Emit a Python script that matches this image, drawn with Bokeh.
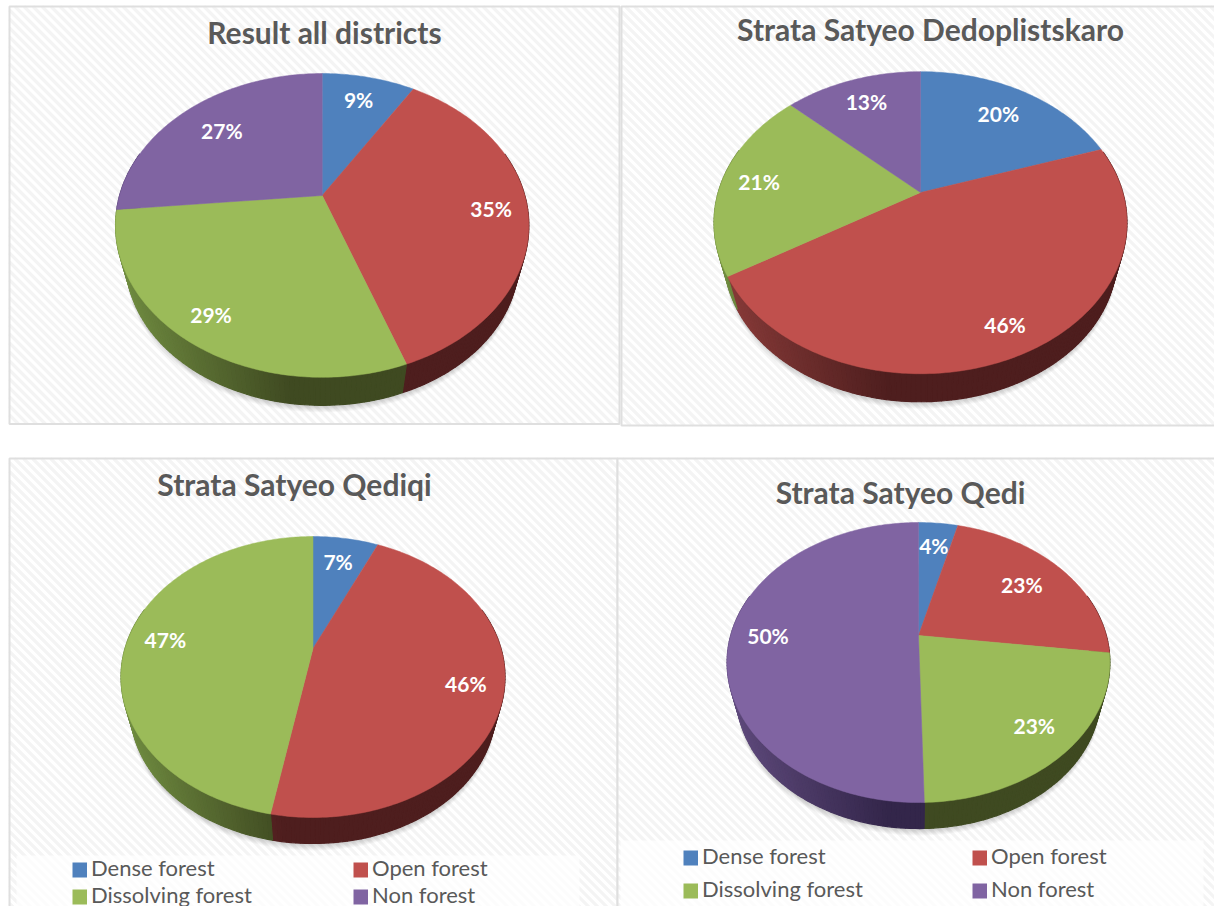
import numpy as np
from bokeh.plotting import figure
from bokeh.models import Range1d
from bokeh.core.properties import value
from bokeh.embed import file_html
from bokeh.resources import INLINE

# ---- data
categories = ["Dense forest", "Open forest", "Dissolving forest", "Non forest"]
titles = ["Result all districts", "Strata Satyeo Dedoplistskaro", "Strata Satyeo Qediqi", "Strata Satyeo Qedi"]
all_districts = [8.8, 35.7, 29, 26.5]
dedoplistskaro = [19.9, 46.4, 20.7, 13]
qediqi = [6.7, 46.2, 47.1, 0]
qedi = [4, 23, 22.6, 50.4]
labels_all = ["9%", "35%", "29%", "27%"]
labels_ded = ["20%", "46%", "21%", "13%"]
labels_qediqi = ["7%", "46%", "47%", ""]
labels_qedi = ["4%", "23%", "23%", "50%"]

# ---- styles and layout
top_colors = ["#4f81bd", "#c0504d", "#9bbb59", "#8064a2"]
wall_dark = ["#2c4a6e", "#4e1e1e", "#3f4a21", "#33264a"]
wall_light = ["#4a74a8", "#8a3c3a", "#708c41", "#5f4a7c"]
W, H = 1214, 906
SCALE = .95

charts = [
    dict(vals=all_districts, labs=labels_all, cx=321.7, cy=195, R=202.6, H=146, k=.197, depth=28,
         off=[(-2, 2), (5, 1), (-11, 5), (8, 6)], title_at=(324, 31)),
    dict(vals=dedoplistskaro, labs=labels_ded, cx=920, cy=192, R=202.3, H=145, k=.2, depth=28,
         off=[(-6, 4), (5, 9), (-3, 1), (2, 2)], title_at=(930, 28)),
    dict(vals=qediqi, labs=labels_qediqi, cx=312.5, cy=648, R=188, H=134.7, k=.203, depth=26,
         off=[(-2, 4), (2, 1), (0, 1), (0, 0)], title_at=(294, 483)),
    dict(vals=qedi, labs=labels_qedi, cx=918, cy=635, R=187.8, H=134.8, k=.193, depth=26,
         off=[(-1, 3), (-11, 5), (2, 0), (0, -1)], title_at=(900, 491)),
]
panels = [(9, 619, 6, 423.5), (621, 1220, 6, 425), (9, 617, 458, 912), (617, 1220, 458, 912)]
legend_boxes = [(16, 579, 855, 906), (620, 1203, 840, 906)]
legend_layouts = [
    dict(xs=(72, 353), ys=(869.5, 896.5)),
    dict(xs=(683, 972), ys=(857.5, 890.5)),
]


def project(c, theta, r=1.0):
    u, v = r * np.sin(theta), r * np.cos(theta)
    d = 1 + c["k"] * v
    return c["cx"] + c["R"] * u / d, c["cy"] - c["H"] * v / d


def lower_rim(c, x, y):
    far = c["cy"] - c["H"] / (1 + c["k"])
    near = c["cy"] + c["H"] / (1 - c["k"])
    yc, ry = (far + near) / 2, (near - far) / 2
    return c["cx"] + (x - c["cx"]) * SCALE, yc + (y - yc) * SCALE + c["depth"] + ry * (1 - SCALE)


def mix(a, b, t):
    ca = [int(a[i:i + 2], 16) for i in (1, 3, 5)]
    cb = [int(b[i:i + 2], 16) for i in (1, 3, 5)]
    return "#%02x%02x%02x" % tuple(round(x + (y - x) * t) for x, y in zip(ca, cb))


p = figure(width=W, height=H, x_range=Range1d(0, W), y_range=Range1d(H, 0),
           output_backend="svg", toolbar_location=None, min_border=0,
           outline_line_color=None, background_fill_color="white", border_fill_color="white")
p.axis.visible = False
p.grid.visible = False

for x0, x1, y0, y1 in panels:
    p.quad(left=x0, right=x1, top=y0, bottom=y1, fill_color="white", line_color=None)
    # diagonal stripe texture of the panel
    sx, sy = [], []
    for t in np.arange(x0 - (y1 - y0), x1, 9.0):
        a = max(t, x0)
        b = min(t + (y1 - y0), x1)
        if b > a:
            sx.append([a, b])
            sy.append([y0 + a - t, y0 + b - t])
    p.multi_line(sx, sy, line_color="#f4f4f4", line_width=3.2)
    p.quad(left=x0, right=x1, top=y0, bottom=y1, fill_color=None, line_color="#dfdfdf", line_width=2)
for x0, x1, y0, y1 in legend_boxes:
    p.quad(left=x0, right=x1, top=y0, bottom=y1, fill_color="#ffffff", fill_alpha=.75, line_color=None)

for c in charts:
    theta = np.linspace(0, 2 * np.pi, 361)
    ox, oy = project(c, theta)
    lx_, ly_ = lower_rim(c, ox, oy)
    # soft shadow
    for s in range(1, 8):
        p.patch(lx_, ly_ + s, fill_color="#000000", fill_alpha=.028, line_color=None)
    x_left, x_span = ox.min(), ox.max() - ox.min()
    shares = np.array(c["vals"], dtype=float)
    edges = np.cumsum(np.r_[0, shares]) / shares.sum() * 2 * np.pi
    # side wall
    xs, ys, cols = [], [], []
    for i in range(4):
        if shares[i] <= 0:
            continue
        n = max(int(shares[i] * 3), 3)
        tt = np.linspace(edges[i], edges[i + 1], n + 1)
        px, py = project(c, tt)
        bx, by = lower_rim(c, px, py)
        for j in range(n):
            if np.cos((tt[j] + tt[j + 1]) / 2) > .3:
                continue
            xs.append([px[j], px[j + 1], bx[j + 1], bx[j]])
            ys.append([py[j], py[j + 1], by[j + 1], by[j]])
            t = min(((px[j] + px[j + 1]) / 2 - x_left) / (x_span * .42), 1)
            cols.append(mix(wall_light[i], wall_dark[i], t))
    p.patches(xs, ys, fill_color=cols, line_color=cols, line_width=1.2)
    # top faces
    for i in range(4):
        if shares[i] <= 0:
            continue
        tt = np.linspace(edges[i], edges[i + 1], max(int(shares[i] * 4), 8))
        px, py = project(c, tt)
        p.patch(np.r_[c["cx"], px], np.r_[c["cy"], py], fill_color=top_colors[i],
                line_color=top_colors[i], line_width=.5)
    # labels
    for i in range(4):
        if not c["labs"][i]:
            continue
        mid = (edges[i] + edges[i + 1]) / 2
        lx, ly = project(c, mid, .8)
        p.text([lx + c["off"][i][0]], [ly + c["off"][i][1]], text=[c["labs"][i]], text_align="center",
               text_baseline="middle", text_color="white", text_font=value("Lato"),
               text_font_style="bold", text_font_size="21px")

for c, t in zip(charts, titles):
    p.text([c["title_at"][0]], [c["title_at"][1]], text=[t], text_align="center", text_baseline="middle",
           text_color="#595959", text_font=value("Lato"), text_font_style="bold", text_font_size="30px")

for lay in legend_layouts:
    for i, cat in enumerate(categories):
        x = lay["xs"][i % 2]
        y = lay["ys"][i // 2]
        p.quad(left=x, right=x + 14.5, top=y - 7.5, bottom=y + 7.5, fill_color=top_colors[i], line_color=None)
        p.text([x + 18.5], [y - 3], text=[cat], text_baseline="middle", text_color="#595959",
               text_font=value("Lato"), text_font_size="22px")

open("out.html", "w").write(file_html(p, INLINE))
